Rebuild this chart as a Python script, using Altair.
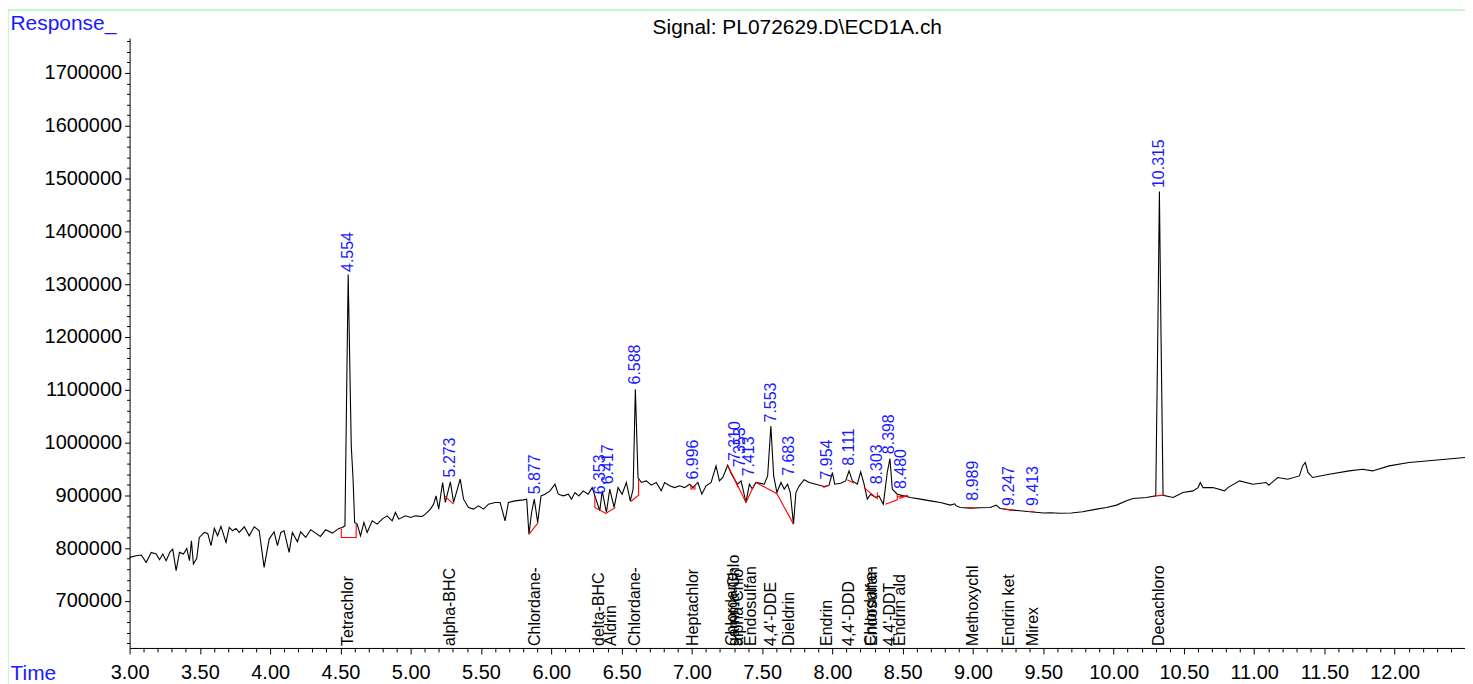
import altair as alt
import pandas as pd

# ---------------- data ----------------
trace_time = [
    3.000, 3.047, 3.083, 3.118, 3.154, 3.189, 3.213, 3.236, 3.260, 3.288, 3.307, 3.331, 3.355, 3.383,
    3.407, 3.426, 3.440, 3.454, 3.478, 3.496, 3.532, 3.556, 3.579, 3.603, 3.626, 3.650, 3.686, 3.709,
    3.733, 3.757, 3.780, 3.816, 3.851, 3.887, 3.922, 3.957, 3.993, 4.028, 4.052, 4.076, 4.099, 4.135,
    4.158, 4.194, 4.217, 4.253, 4.288, 4.324, 4.357, 4.395, 4.442, 4.489, 4.513, 4.532, 4.555, 4.577,
    4.590, 4.601, 4.619, 4.643, 4.667, 4.690, 4.726, 4.761, 4.797, 4.832, 4.868, 4.891, 4.915, 4.962,
    5.000, 5.033, 5.080, 5.104, 5.140, 5.163, 5.180, 5.199, 5.227, 5.246, 5.282, 5.305, 5.352, 5.376,
    5.411, 5.447, 5.482, 5.518, 5.553, 5.600, 5.636, 5.671, 5.695, 5.742, 5.801, 5.825, 5.841, 5.860,
    5.879, 5.903, 5.927, 5.955, 5.991, 6.026, 6.050, 6.085, 6.121, 6.144, 6.168, 6.196, 6.227, 6.262,
    6.291, 6.310, 6.345, 6.362, 6.392, 6.416, 6.447, 6.475, 6.504, 6.534, 6.562, 6.582, 6.598, 6.617,
    6.641, 6.676, 6.711, 6.747, 6.782, 6.806, 6.842, 6.877, 6.913, 6.948, 6.984, 7.007, 7.043, 7.071,
    7.101, 7.137, 7.172, 7.196, 7.220, 7.255, 7.279, 7.303, 7.326, 7.350, 7.385, 7.409, 7.430, 7.456,
    7.515, 7.539, 7.562, 7.582, 7.605, 7.634, 7.657, 7.681, 7.700, 7.723, 7.740, 7.764, 7.799, 7.835,
    7.882, 7.941, 7.976, 8.000, 8.016, 8.059, 8.094, 8.118, 8.142, 8.177, 8.201, 8.225, 8.248, 8.272,
    8.307, 8.331, 8.362, 8.390, 8.409, 8.426, 8.461, 8.508, 8.555, 8.626, 8.697, 8.768, 8.839, 8.870,
    8.880, 8.910, 8.981, 9.052, 9.122, 9.165, 9.193, 9.264, 9.335, 9.406, 9.501, 9.550, 9.620, 9.700,
    9.780, 9.879, 9.950, 10.021, 10.092, 10.139, 10.234, 10.300, 10.315, 10.326, 10.337, 10.352,
    10.423, 10.494, 10.565, 10.601, 10.617, 10.636, 10.707, 10.789, 10.813, 10.896, 10.991, 11.085,
    11.104, 11.168, 11.239, 11.322, 11.345, 11.364, 11.383, 11.416, 11.534, 11.676, 11.771, 11.842,
    11.960, 12.102, 12.243, 12.362, 12.500,
]
trace_resp = [
    782500, 785700, 787000, 773000, 792000, 788800, 778100, 788800, 776200, 793200, 798300, 757300, 792000, 788800,
    799500, 776200, 814000, 769900, 780600, 820300, 829800, 827900, 804600, 837400, 823500, 841100, 810900, 839200,
    832900, 837400, 829800, 840500, 823500, 840500, 832900, 763600, 817200, 831000, 804600, 829800, 832900, 792000,
    829800, 812100, 831000, 820300, 834800, 828500, 822200, 834800, 828500, 837400, 839200, 842300, 1318100, 993600,
    930000, 848700, 845500, 823400, 848700, 829900, 851800, 845500, 855000, 861200, 851800, 867600, 855000, 861200,
    858000, 861200, 860000, 864500, 873900, 883300, 899000, 873900, 924400, 886600, 925500, 886600, 930600, 892800,
    877100, 873900, 880100, 873900, 883300, 886600, 886600, 851800, 886600, 889600, 891500, 892800, 826600, 867600,
    892800, 848700, 899000, 902200, 908500, 921100, 902200, 899000, 902200, 892800, 905300, 899000, 908500, 902200,
    914700, 899000, 870800, 908500, 867600, 911700, 877100, 914700, 902200, 924400, 889600, 911700, 1100700, 933800,
    924400, 927400, 919300, 924400, 908500, 924400, 918100, 914700, 918100, 914700, 921100, 914700, 924400, 902200,
    918100, 924400, 955800, 927400, 933800, 957100, 942000, 930000, 921100, 927400, 886600, 921100, 912000, 924400,
    921100, 936800, 1031400, 936800, 905300, 924400, 911700, 921100, 905300, 845500, 905300, 918100, 929500, 924400,
    921100, 916800, 919300, 943300, 921100, 923000, 927400, 946300, 927400, 921100, 944400, 921100, 892800, 902200,
    896000, 899000, 883300, 943300, 969800, 911700, 902200, 899000, 896000, 892800, 889600, 886600, 881500, 884000,
    880000, 877100, 875800, 876400, 877100, 881500, 875200, 872500, 870800, 868900, 866600, 867000, 866000, 866500,
    869000, 873900, 877100, 881500, 889600, 894100, 896000, 899000, 1214000, 1475600, 1214000, 900300,
    896000, 905500, 908500, 914700, 924400, 914700, 914700, 908500, 914700, 927400, 921100, 924400,
    919300, 933800, 930600, 936800, 955800, 962200, 943300, 933800, 940000, 946300, 949500, 946300,
    955800, 962200, 965400, 968500, 971700,
]

# integration baselines (red)
base_seg = [1, 1, 1, 1, 2, 2, 3, 3, 4, 4, 4, 4, 5, 5, 5, 6, 6, 6, 6, 7, 7, 7, 8, 8, 9, 9, 9,
            10, 10, 11, 11, 12, 12, 12, 13, 13, 13, 14, 14, 14, 15, 15, 16, 16, 17, 17, 18, 18]
base_time = [4.506, 4.506, 4.612, 4.612, 5.241, 5.305, 5.842, 5.908, 6.310, 6.310, 6.388, 6.456,
             6.564, 6.621, 6.621, 6.993, 6.993, 7.022, 7.022, 7.255, 7.385, 7.444, 7.300, 7.330,
             7.456, 7.605, 7.723, 7.935, 7.975, 8.106, 8.154, 8.225, 8.319, 8.319, 8.378, 8.461,
             8.461, 8.461, 8.535, 8.475, 8.960, 9.010, 9.220, 9.290, 9.390, 9.440, 10.290, 10.355]
base_resp = [836100, 820300, 820300, 845500, 899000, 883300, 826600, 848700, 899000, 877100, 865800, 877100,
             887800, 900300, 930600, 921000, 912000, 912000, 919000, 957100, 886600, 920000, 933000, 915000,
             924400, 903000, 845500, 915000, 918500, 929500, 923000, 914700, 893800, 906000, 883300, 891500,
             902200, 897000, 899500, 894000, 877000, 875500, 874000, 872000, 870000, 868500, 898500, 900500]

# retention-time labels (blue)
peak_text = ["4.554", "5.273", "5.877", "6.353", "6.417", "6.588", "6.996", "7.310", "7.353", "7.413",
             "7.553", "7.683", "7.954", "8.111", "8.303", "8.398", "8.480", "8.989", "9.247", "9.413", "10.315"]
peak_time = [4.557, 5.280, 5.882, 6.345, 6.405, 6.595, 7.005, 7.305, 7.345, 7.410,
             7.560, 7.690, 7.958, 8.116, 8.315, 8.405, 8.487, 9.000, 9.257, 9.428, 10.325]
peak_resp = [1323000, 934000, 902000, 902000, 921000, 1110000, 930000, 965000, 953000, 936000,
             1038000, 937000, 930000, 956000, 921000, 978000, 912000, 890000, 880000, 880000, 1482000]

# compound names (black)
cmpd_name = ["Tetrachlor", "alpha-BHC", "Chlordane-", "delta-BHC", "Aldrin", "Chlordane-", "Heptachlor",
             "Chlordane-", "gamma-Chlo", "alpha-Chlo", "Endosulfan", "4,4'-DDE", "Dieldrin", "Endrin",
             "4,4'-DDD", "Chlordane-", "Endosulfan", "4,4'-DDT", "Endrin ald", "Methoxychl", "Endrin ket",
             "Mirex", "Decachloro"]
cmpd_time = [4.557, 5.282, 5.884, 6.342, 6.425, 6.595, 7.005,
             7.283, 7.297, 7.325, 7.420, 7.562, 7.690, 7.965,
             8.118, 8.275, 8.285, 8.412, 8.482, 9.000, 9.258,
             9.428, 10.325]

x_tick_values = [round(3.0 + 0.1 * i, 1) for i in range(95)]   # 3.0 .. 12.4
y_tick_values = list(range(620000, 1766000, 20000))

title_text = "Signal: PL072629.D\\ECD1A.ch"

# ---------------- styling ----------------
W, H = 1340, 612
FONT = "Liberation Sans"
BLUE = "#1a1aff"

x_major = "abs(datum.value*2 - round(datum.value*2)) < 0.001"
y_major = "datum.value % 100000 === 0"

x_scale = alt.Scale(domain=[3.0, 12.5], nice=False, zero=False)
y_scale = alt.Scale(domain=[611000, 1766000], nice=False, zero=False)

x_axis = alt.Axis(
    values=x_tick_values, labelExpr=f"{x_major} ? format(datum.value, '.2f') : ''",
    tickSize={"condition": {"test": x_major, "value": 6}, "value": 4},
    labelFontSize=20, labelFont=FONT, labelColor="black", labelPadding=9,
    labelOverlap=False, labelFlush=False, grid=False,
    domainColor="black", tickColor="black",
    title="Time", titleX=-120, titleY=26, titleAngle=0, titleAlign="left", titleBaseline="middle",
    titleColor=BLUE, titleFontSize=21, titleFont=FONT, titleFontWeight="normal",
)
y_axis = alt.Axis(
    values=y_tick_values, labelExpr=f"{y_major} ? format(datum.value, 'd') : ''",
    tickSize={"condition": {"test": y_major, "value": 5}, "value": 3},
    labelFontSize=20, labelFont=FONT, labelColor="black", labelPadding=3,
    labelOverlap=False, labelFlush=False, grid=False,
    domainColor="black", tickColor="black",
    title="Response_", titleX=-120, titleY=-15, titleAngle=0, titleAlign="left", titleBaseline="middle",
    titleColor=BLUE, titleFontSize=21, titleFont=FONT, titleFontWeight="normal",
)

X = alt.X("t:Q", scale=x_scale, axis=x_axis)
Y = alt.Y("r:Q", scale=y_scale, axis=y_axis)

trace_df = pd.DataFrame({"t": trace_time, "r": trace_resp})
base_df = pd.DataFrame({"seg": base_seg, "t": base_time, "r": base_resp, "i": range(len(base_seg))})
peak_df = pd.DataFrame({"label": peak_text, "t": peak_time, "r": peak_resp})
name_df = pd.DataFrame({"name": cmpd_name, "t": cmpd_time})
one = pd.DataFrame({"title": [title_text]})

trace = alt.Chart(trace_df).mark_line(color="black", strokeWidth=1.1).encode(x=X, y=Y)

baselines = alt.Chart(base_df).mark_line(color="#ff0000", strokeWidth=1.1).encode(
    x=X, y=Y, detail="seg:N", order="i:Q")

peaks = alt.Chart(peak_df).mark_text(
    angle=270, align="left", baseline="middle", color=BLUE, fontSize=16, font=FONT
).encode(x=X, y=Y, text="label:N")

names = alt.Chart(name_df).mark_text(
    angle=270, align="left", baseline="middle", color="black", fontSize=16, font=FONT
).encode(x=X, y=alt.value(H - 2), text="name:N")

title = alt.Chart(one).mark_text(
    align="center", baseline="alphabetic", color="black", fontSize=21, font=FONT
).encode(x=alt.value(W / 2), y=alt.value(-4), text="title:N")

border_v = alt.Chart(one).mark_rule(color="#8ef08e", strokeWidth=1).encode(
    x=alt.value(-122), y=alt.value(-28), y2=alt.value(H + 40))
border_h = alt.Chart(one).mark_rule(color="#8ef08e", strokeWidth=1).encode(
    x=alt.value(-122), x2=alt.value(W + 2), y=alt.value(-28))

chart = alt.layer(trace, baselines, peaks, names, title, border_v, border_h).properties(
    width=W, height=H,
    padding={"left": 122, "top": 29, "right": 0, "bottom": 35},
    autosize=alt.AutoSizeParams(type="none"),
    background="white",
).configure_view(stroke=None)

chart.save("out.html", embed_options={"renderer": "svg", "actions": False})
